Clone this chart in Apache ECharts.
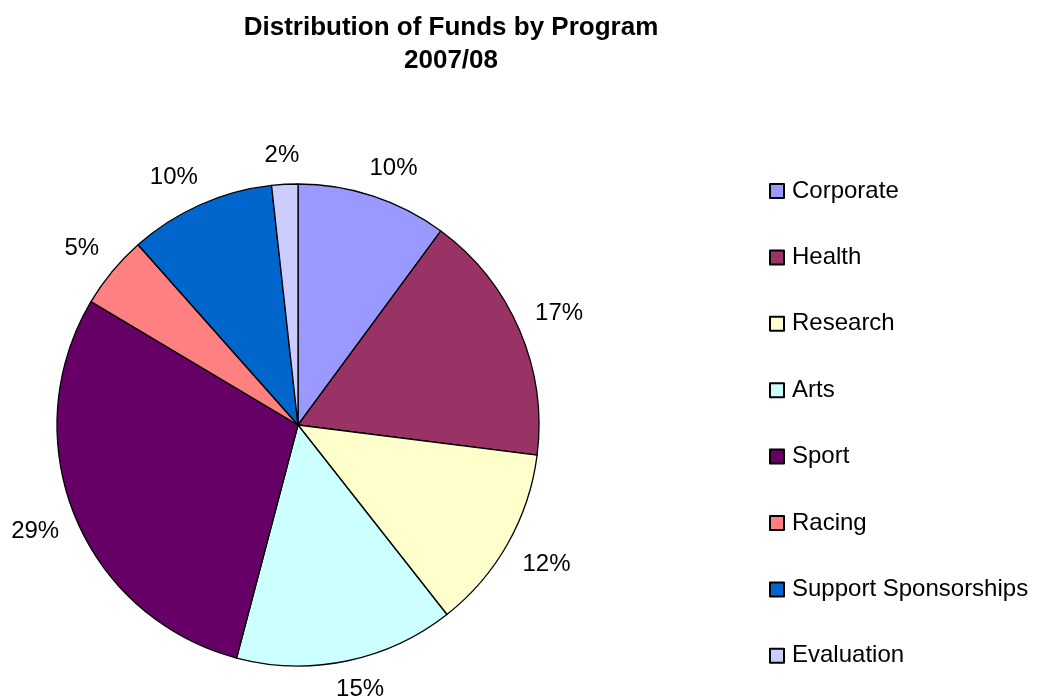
<!DOCTYPE html>
<html>
<head>
<meta charset="utf-8">
<script src="https://cdn.jsdelivr.net/npm/echarts@6/dist/echarts.min.js"></script>
<style>
    html, body { margin: 0; padding: 0; background: #fff; }
    #chartPie { width: 1048px; height: 698px; }
</style>
</head>
<body>
<div id="chartPie"></div>
<script>
// data (share of funds, %)
const programs = ['Corporate', 'Health', 'Research', 'Arts', 'Sport', 'Racing', 'Support Sponsorships', 'Evaluation']
const shares = [10.1, 16.9, 12.4, 14.7, 29.45, 4.9, 9.8, 1.75]
const colorList = ['#9999FF', '#993366', '#FFFFCC', '#CCFFFF', '#660066', '#FF8080', '#0066CC', '#CCCCFF']

const fontFamily = '"Liberation Sans", Arial, sans-serif'
const center = [298, 425]
const radius = 241
const labelGap = 258   // label anchor distance from the centre

let pieData = programs.map((name, i) => ({ name: name, value: shares[i] }))

let myChart = echarts.init(document.getElementById('chartPie'))
let option = {
    animation: false,
    color: colorList,
    title: {
        text: 'Distribution of Funds by Program\n2007/08',
        left: 446,
        top: 6,
        textAlign: 'center',
        textStyle: {
            fontFamily: fontFamily,
            fontSize: 26,
            fontWeight: 'bold',
            lineHeight: 33,
            color: '#000'
        }
    },
    legend: {
        orient: 'vertical',
        left: 764,
        top: 174,
        icon: 'rect',
        itemWidth: 14,
        itemHeight: 14,
        itemGap: 42.4,
        data: programs,
        selectedMode: false,
        textStyle: {
            fontFamily: fontFamily,
            fontSize: 24,
            color: '#000',
            padding: [0, 0, 0, 3]
        }
    },
    series: [{
        type: 'pie',
        center: center,
        radius: radius,
        startAngle: 90,
        clockwise: true,
        silent: true,
        itemStyle: {
            borderColor: '#000',
            borderWidth: 1.3
        },
        label: {
            show: true,
            position: 'inside',
            rotate: 0,
            fontFamily: fontFamily,
            fontSize: 24,
            color: '#000',
            formatter: (p) => Math.round(p.percent) + '%'
        },
        labelLine: { show: false },
        // move each label just outside the rim, box hanging off the anchor point
        labelLayout: (p) => {
            let r = p.labelRect
            let cx = r.x + r.width / 2
            let cy = r.y + r.height / 2
            let vx = cx - center[0]
            let vy = cy - center[1]
            let len = Math.sqrt(vx * vx + vy * vy) || 1
            let ux = vx / len
            let uy = vy / len
            let sx = Math.max(-1, Math.min(1, ux * 2))
            let sy = Math.max(-1, Math.min(1, uy * 2))
            return {
                dx: center[0] + ux * labelGap + sx * r.width / 2 - cx,
                dy: center[1] + uy * labelGap + sy * r.height / 2 - cy
            }
        },
        data: pieData
    }]
}
myChart.setOption(option)
</script>
</body>
</html>
